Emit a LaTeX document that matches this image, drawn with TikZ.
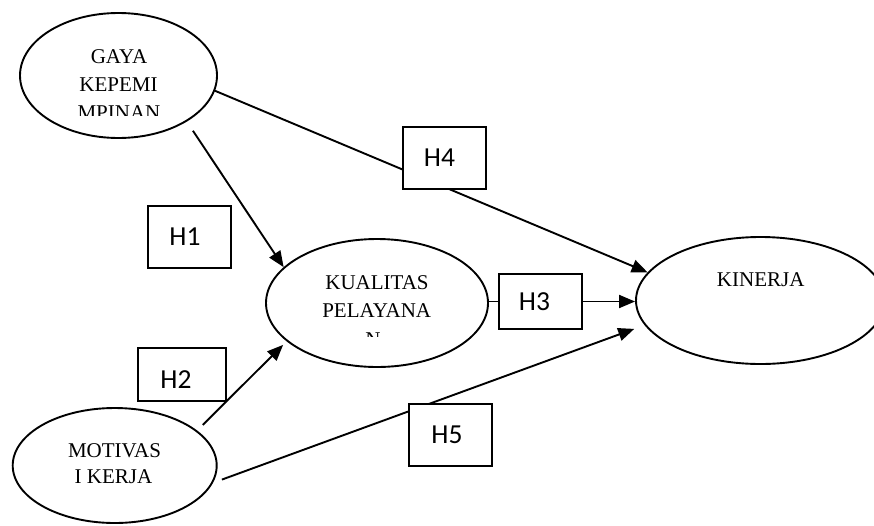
\documentclass[tikz,border=0pt]{standalone}
\usepackage{fontspec}
\setmainfont{Liberation Serif}
\newfontfamily\hfont{Carlito}
\usetikzlibrary{shapes.geometric,arrows.meta}
\begin{document}
\begin{tikzpicture}[x=1pt,y=-1pt,
  lat/.style={ellipse,draw,line width=1.9pt,inner sep=0pt},
  hbox/.style={draw,fill=white,line width=1.9pt,inner sep=0pt},
  conn/.style={line width=1.9pt},
  arr/.style={conn,-{Triangle[length=16pt,width=13pt]}},
  etext/.style={anchor=base,font=\fontsize{21}{27}\selectfont,inner sep=0pt},
  htext/.style={anchor=base,font=\hfont\fontsize{27.5}{33}\selectfont,inner sep=0pt}]
\useasboundingbox (0,0) rectangle (874,525);
\clip (0,0) rectangle (874,525);
% latent variables
\node[lat,minimum width=197pt,minimum height=125pt] (gaya) at (118.5,75.5) {};
\node[lat,minimum width=222pt,minimum height=128pt] (kual) at (377,303) {};
\node[lat,minimum width=248.8pt,minimum height=127pt] (kin) at (760.4,300.5) {};
\node[lat,minimum width=204pt,minimum height=115pt] (mot) at (114.7,465.5) {};
% texts in ellipses
\node[etext] (g1) at (119,63.3) {GAYA};
\node[etext] (g2) at (118.5,91.7) {KEPEMI};
\begin{scope}
  \clip (0,100) rectangle (240,115);
  \node[etext] (g3) at (119,119) {MPINAN};
\end{scope}
\node[etext] (k1) at (377,289.3) {KUALITAS};
\node[etext] (k2) at (376.7,317.3) {PELAYANA};
\begin{scope}
  \clip (300,320) rectangle (450,336);
  \node[etext] (k3) at (373,346) {N};
\end{scope}
\node[etext] (n1) at (760.7,286.7) {KINERJA};
\node[etext] (m1) at (114.5,457.3) {MOTIVAS};
\node[etext] (m2) at (113.5,483.3) {I KERJA};
% connectors
\draw[arr,shorten <=11pt] (gaya.-34.5) -- (kual.159);
\draw[arr] (gaya.-9.6) -- (kin.166.5);
\draw[arr,shorten <=8pt,shorten >=5pt] (mot.23.6) -- (kual.203);
\draw[arr,shorten <=9.5pt,shorten >=11pt] (mot.-10.4) -- (kin.192.9);
% hypothesis boxes
\node[hbox,minimum width=83pt,minimum height=62pt] (h1) at (189.5,237) {};
\node[hbox,minimum width=88pt,minimum height=53pt] (h2) at (182,374.5) {};
\node[hbox,minimum width=83pt,minimum height=55pt] (h3) at (540.5,301.5) {};
\node[hbox,minimum width=83pt,minimum height=62pt] (h4) at (444.5,158) {};
\node[hbox,minimum width=83pt,minimum height=62pt] (h5) at (450.5,435) {};
\node[htext] (l1) at (185,245.7) {H1};
\node[htext] (l2) at (176,388.3) {H2};
\node[htext] (l3) at (534.5,310.7) {H3};
\node[htext] (l4) at (439.5,166) {H4};
\node[htext] (l5) at (447,443.3) {H5};
% H3 path
\draw[conn] (kual.east |- h3.west) -- (h3.west);
\draw[arr] (h3.east) -- (h3.east -| kin.west);
\end{tikzpicture}
\end{document}
